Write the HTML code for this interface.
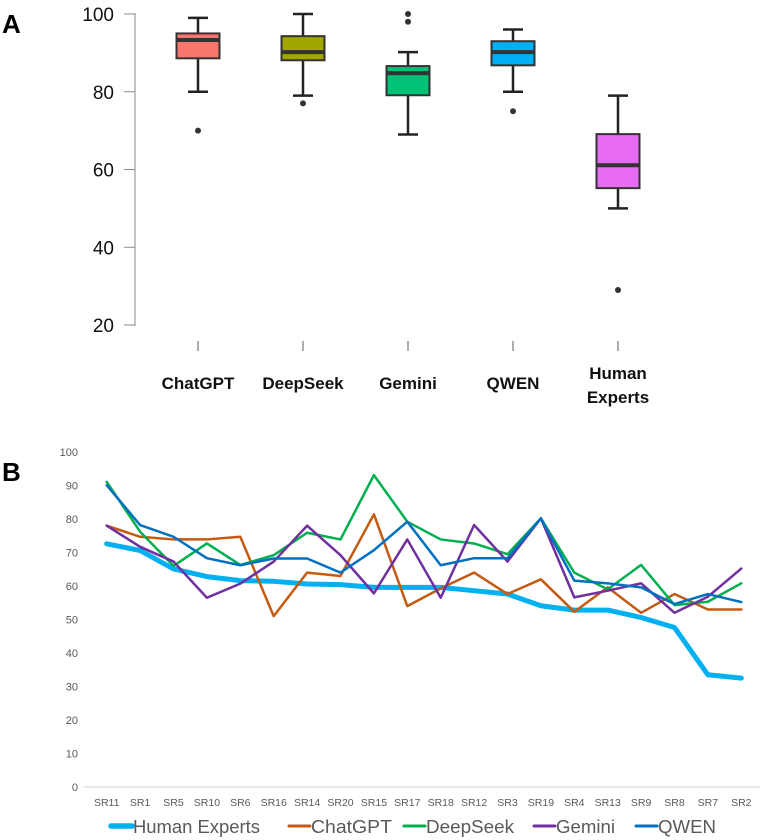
<!DOCTYPE html>
<html><head><meta charset="utf-8"><style>
body{margin:0;background:#fff;}
svg{display:block;font-family:"Liberation Sans",sans-serif;}
</style></head><body>
<svg id="fig" width="762" height="840" viewBox="0 0 762 840" xmlns="http://www.w3.org/2000/svg">
<text x="2" y="33" font-size="26" font-weight="bold">A</text>
<text x="2" y="481" font-size="26" font-weight="bold">B</text>
<g id="boxg"></g>
<g id="lineg"></g>
</svg>
<script>
const boxCats = ["ChatGPT","DeepSeek","Gemini","QWEN","Human Experts"];
const boxColors = ["#f8766d","#a3a500","#00c176","#00b0f6","#e76bf3"];
const whiskLow = [80,79,69,80,50];
const q1 = [88.6,88.1,79.1,86.8,55.2];
const medians = [93.3,90.2,84.8,90.2,61.1];
const q3 = [95,94.3,86.6,93,69.1];
const whiskHigh = [99,100,90.2,96,79];
const outliers = [[70],[77],[100,98],[75],[29]];
const boxTicks = [20,40,60,80,100];

const lineCats = ["SR11","SR1","SR5","SR10","SR6","SR16","SR14","SR20","SR15","SR17","SR18","SR12","SR3","SR19","SR4","SR13","SR9","SR8","SR7","SR2"];
const humanVals = [72.6,70.6,65.1,62.8,61.6,61.4,60.6,60.4,59.6,59.6,59.6,58.6,57.6,54.1,52.8,52.8,50.6,47.6,33.5,32.5];
const chatgptVals = [78,74.7,73.9,73.9,74.7,51,64,63,81.4,54,59.3,64,57.6,62,52.3,59.6,52,57.6,53,53];
const deepseekVals = [91.1,76.2,66,72.7,66.3,69.2,75.9,73.9,93.1,79.2,73.9,72.7,69.5,80.2,64,59,66.3,54.3,55.3,60.8];
const geminiVals = [78,71.7,67.3,56.5,60.7,67.3,78,69.2,57.8,73.9,56.5,78.2,67.3,80.2,56.6,58.6,60.8,52,56.8,65.2];
const qwenVals = [90.1,78.2,74.7,68.3,66.2,68.2,68.2,64,70.7,79.2,66.2,68.3,68.3,80.2,61.6,60.8,59.6,54.6,57.6,55.2];
const lineTicks = [0,10,20,30,40,50,60,70,80,90,100];

const NS="http://www.w3.org/2000/svg";
function mk(tag,attrs,parent){const e=document.createElementNS(NS,tag);for(const k in attrs)e.setAttribute(k,attrs[k]);parent.appendChild(e);return e;}

// Box plot
const bg=document.getElementById('boxg');
const by=v=>325-(v-20)*(311/80);
const bx=i=>198+i*105;
const ax=mk('line',{x1:135,y1:13,x2:135,y2:326,stroke:'#888','stroke-width':1},bg);


boxTicks.forEach(t=>{
  const l=mk('line',{x1:124,x2:135,y1:by(t),y2:by(t),stroke:'#888','stroke-width':1},bg);
  
  
  const tx=mk('text',{x:114,y:by(t)+7,'text-anchor':'end','font-size':19,fill:'#111'},bg);
  
  
  tx.textContent=t;
});
boxCats.forEach((c,i)=>{
  const x=bx(i),w=43;
  const g=mk('g',{},bg);
  
  
  mk('line',{x1:x,x2:x,y1:by(whiskHigh[i]),y2:by(q3[i]),stroke:'#222','stroke-width':2.5},g);
  mk('line',{x1:x,x2:x,y1:by(q1[i]),y2:by(whiskLow[i]),stroke:'#222','stroke-width':2.5},g);
  mk('line',{x1:x-10,x2:x+10,y1:by(whiskHigh[i]),y2:by(whiskHigh[i]),stroke:'#222','stroke-width':2.5},g);
  mk('line',{x1:x-10,x2:x+10,y1:by(whiskLow[i]),y2:by(whiskLow[i]),stroke:'#222','stroke-width':2.5},g);
  mk('rect',{x:x-w/2,y:by(q3[i]),width:w,height:by(q1[i])-by(q3[i]),fill:boxColors[i],stroke:'#333','stroke-width':2},g);
  mk('line',{x1:x-w/2,x2:x+w/2,y1:by(medians[i]),y2:by(medians[i]),stroke:'#333','stroke-width':4},g);
  outliers[i].forEach(o=>mk('circle',{cx:x,cy:by(o),r:3,fill:'#333'},g));
  mk('line',{x1:x,x2:x,y1:341,y2:351,stroke:'#777','stroke-width':1.2},bg);
  const lbl=mk('text',{x:x,'text-anchor':'middle','font-size':17,'font-weight':'bold',fill:'#111'},bg);
  
  
  if(c==="Human Experts"){
    lbl.setAttribute('y',379);
    mk('tspan',{x:x,dy:0},lbl).textContent="Human";
    mk('tspan',{x:x,dy:24},lbl).textContent="Experts";
  } else {lbl.setAttribute('y',389);lbl.textContent=c;}
});

// Line chart
const lg=document.getElementById('lineg');
const ly=v=>787-v*3.35;
const lx=i=>106.7+i*33.4;
lineTicks.forEach(t=>{
  const tx=mk('text',{x:78,y:ly(t)+4,'text-anchor':'end','font-size':11,fill:'#595959'},lg);
  
  
  tx.textContent=t;
});
const base=mk('line',{x1:84,x2:760,y1:787,y2:787,stroke:'#d9d9d9','stroke-width':1.2},lg);


lineCats.forEach((c,i)=>{
  const tx=mk('text',{x:lx(i),y:806,'text-anchor':'middle','font-size':10.5,fill:'#595959'},lg);
  
  
  tx.textContent=c;
});
const series=[
  {n:"Human Experts",v:humanVals,c:"#00b0f0",w:5},
  {n:"ChatGPT",v:chatgptVals,c:"#c55a11",w:2.5},
  {n:"DeepSeek",v:deepseekVals,c:"#00b050",w:2.5},
  {n:"Gemini",v:geminiVals,c:"#7030a0",w:2.5},
  {n:"QWEN",v:qwenVals,c:"#0070c0",w:2.5}
];
series.forEach(s=>{
  const p=mk('polyline',{points:s.v.map((v,i)=>lx(i)+','+ly(v)).join(' '),fill:'none',stroke:s.c,'stroke-width':s.w,'stroke-linejoin':'round','stroke-linecap':'round'},lg);
  
  
});
const legX=[111,289,404,534,636];
const legW=[127,81,88,59,58];
series.forEach((s,i)=>{
  const g=mk('g',{},lg);
  
  
  mk('line',{x1:legX[i],x2:legX[i]+21,y1:826,y2:826,stroke:s.c,'stroke-width':s.w+0.5,'stroke-linecap':'round'},g);
  const t=mk('text',{x:legX[i]+22,y:833,'font-size':18,fill:'#595959',textLength:legW[i],lengthAdjust:'spacingAndGlyphs'},g);
  t.textContent=s.n;
});
</script>
</body></html>
